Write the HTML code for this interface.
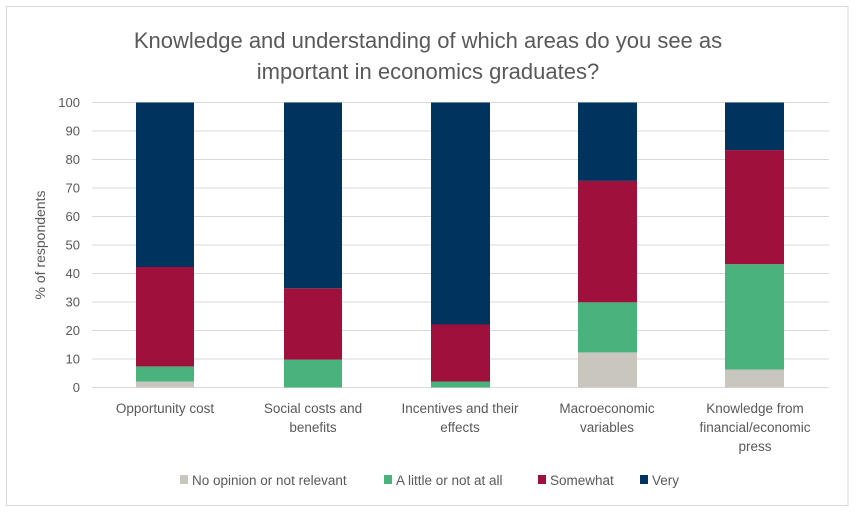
<!DOCTYPE html>
<html><head><meta charset="utf-8"><style>
html,body{margin:0;padding:0;background:#fff;}
svg{display:block;font-family:"Liberation Sans",sans-serif;}
</style></head><body>
<svg width="856" height="516" viewBox="0 0 856 516">
<rect x="6.5" y="6.5" width="841.5" height="499" fill="#fff" stroke="#d9d9d9" stroke-width="1"/>
<g fill="#595959" font-size="22" text-anchor="middle">
<text x="428" y="48">Knowledge and understanding of which areas do you see as</text>
<text x="428" y="79">important in economics graduates?</text>
</g>
<g stroke="#d9d9d9" stroke-width="1">
<line x1="92" x2="829" y1="102.5" y2="102.5"/>
<line x1="92" x2="829" y1="131" y2="131"/>
<line x1="92" x2="829" y1="159.5" y2="159.5"/>
<line x1="92" x2="829" y1="188" y2="188"/>
<line x1="92" x2="829" y1="216.5" y2="216.5"/>
<line x1="92" x2="829" y1="245" y2="245"/>
<line x1="92" x2="829" y1="273.5" y2="273.5"/>
<line x1="92" x2="829" y1="302" y2="302"/>
<line x1="92" x2="829" y1="330.5" y2="330.5"/>
<line x1="92" x2="829" y1="359" y2="359"/>
<line x1="92" x2="829" y1="387.5" y2="387.5"/>
</g>
<g fill="#595959" font-size="13" text-anchor="end">
<text x="80" y="107">100</text><text x="80" y="135.5">90</text><text x="80" y="164">80</text>
<text x="80" y="192.5">70</text><text x="80" y="221">60</text><text x="80" y="249.5">50</text>
<text x="80" y="278">40</text><text x="80" y="306.5">30</text><text x="80" y="335">20</text>
<text x="80" y="363.5">10</text><text x="80" y="392">0</text>
</g>
<text transform="translate(45,245) rotate(-90)" fill="#595959" font-size="14" text-anchor="middle">% of respondents</text>
<g>
<rect x="136" y="381.5" width="58" height="6" fill="#c9c5bf"/>
<rect x="136" y="366.4" width="58" height="15.1" fill="#4ab27d"/>
<rect x="136" y="267" width="58" height="99.4" fill="#a0103c"/>
<rect x="136" y="102.5" width="58" height="164.5" fill="#00345e"/>

<rect x="284" y="359.6" width="58" height="27.9" fill="#4ab27d"/>
<rect x="284" y="288.3" width="58" height="71.3" fill="#a0103c"/>
<rect x="284" y="102.5" width="58" height="185.8" fill="#00345e"/>

<rect x="431" y="381.5" width="59" height="6" fill="#4ab27d"/>
<rect x="431" y="324.5" width="59" height="57" fill="#a0103c"/>
<rect x="431" y="102.5" width="59" height="222" fill="#00345e"/>

<rect x="578" y="352.4" width="59" height="35.1" fill="#c9c5bf"/>
<rect x="578" y="302.3" width="59" height="50.1" fill="#4ab27d"/>
<rect x="578" y="180.9" width="59" height="121.4" fill="#a0103c"/>
<rect x="578" y="102.5" width="59" height="78.4" fill="#00345e"/>

<rect x="725" y="369.5" width="59" height="18" fill="#c9c5bf"/>
<rect x="725" y="264.1" width="59" height="105.4" fill="#4ab27d"/>
<rect x="725" y="150.1" width="59" height="114" fill="#a0103c"/>
<rect x="725" y="102.5" width="59" height="47.6" fill="#00345e"/>
</g>
<g fill="#595959" font-size="13.5" text-anchor="middle">
<text x="165" y="413">Opportunity cost</text>
<text x="313" y="413">Social costs and</text><text x="313" y="432">benefits</text>
<text x="460" y="413">Incentives and their</text><text x="460" y="432">effects</text>
<text x="607" y="413">Macroeconomic</text><text x="607" y="432">variables</text>
<text x="755" y="413">Knowledge from</text><text x="755" y="432">financial/economic</text><text x="755" y="451">press</text>
</g>
<g font-size="13.5" fill="#595959">
<rect x="180" y="475" width="8" height="9" fill="#c9c5bf"/><text x="192" y="485">No opinion or not relevant</text>
<rect x="384" y="475" width="8" height="9" fill="#4ab27d"/><text x="396" y="485">A little or not at all</text>
<rect x="538" y="475" width="8" height="9" fill="#a0103c"/><text x="550" y="485">Somewhat</text>
<rect x="640" y="475" width="8" height="9" fill="#00345e"/><text x="652" y="485">Very</text>
</g>
</svg>
</body></html>
